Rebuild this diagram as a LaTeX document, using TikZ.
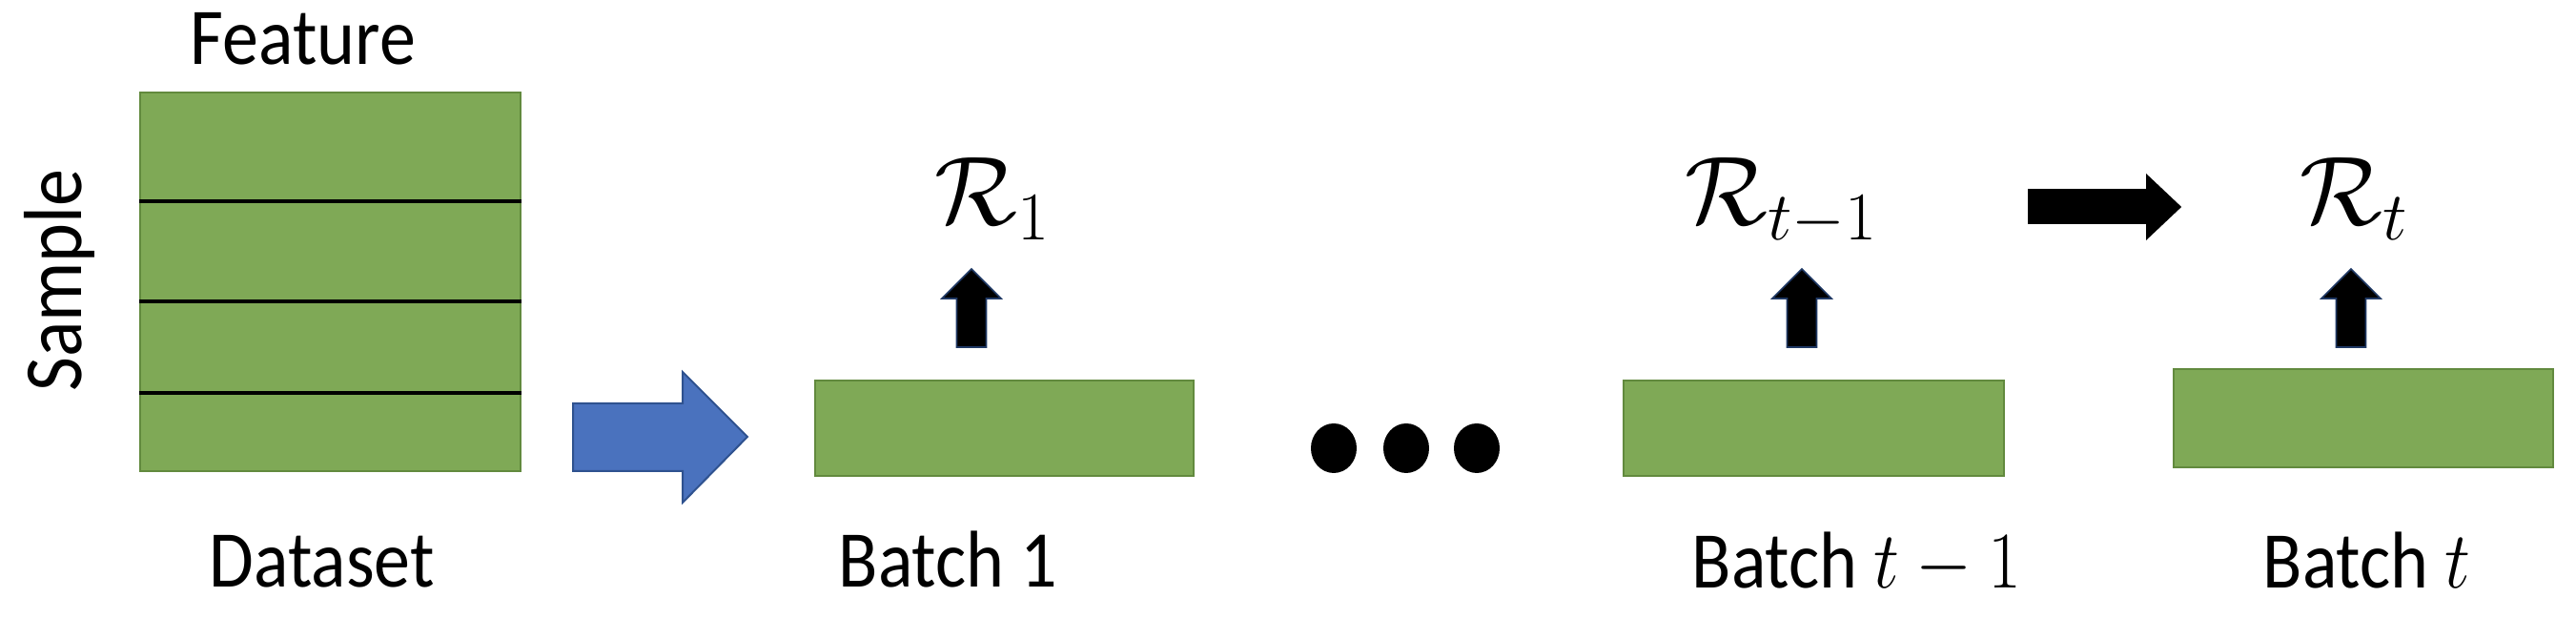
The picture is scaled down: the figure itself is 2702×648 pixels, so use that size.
\RequirePackage{fix-cm}
\documentclass[tikz,border=0pt]{standalone}
\usepackage{graphicx}
\usepackage{fontspec}
\setmainfont{Carlito}
\definecolor{gfill}{RGB}{127,169,86}
\definecolor{gdraw}{RGB}{98,138,62}
\definecolor{bfill}{RGB}{74,114,190}
\definecolor{bdraw}{RGB}{47,82,143}
\definecolor{adraw}{RGB}{31,56,100}
\newcommand{\tall}[1]{\scalebox{1}[1.11]{#1}}
\tikzset{
  databox/.style={draw=gdraw, fill=gfill, line width=0.7pt, inner sep=0pt},
  lbl/.style={inner sep=0pt, anchor=base west, font=\fontsize{19}{23}\selectfont},
  mlbl/.style={inner sep=0pt, anchor=base west, font=\fontsize{25.6}{30}\selectfont},
  uparrow/.style={fill=black, draw=adraw, line width=0.4pt, line join=miter},
}
\begin{document}
\begin{tikzpicture}[x=0.25pt,y=-0.25pt]
\useasboundingbox (0,0) rectangle (2702,648);
% dataset
\node[databox, minimum width=99.75pt, minimum height=99.25pt] (ds) at (346.5,295.5) {};
\foreach \yy in {211,316,412}
  \draw[line width=1pt] (ds.west |- 0,\yy) -- (ds.east |- 0,\yy);
\node[lbl] (feat) at (199,68) {\tall{Feature}};
\node[inner sep=0pt, anchor=base, rotate=90, font=\fontsize{19.5}{23}\selectfont] (samp) at (85,294) {\tall{Sample}};
\node[lbl] (dstxt) at (219,616) {\tall{Dataset}};
% blue arrow
\filldraw[fill=bfill, draw=bdraw, line width=0.5pt]
  (601,423) -- (716,423) -- (716,390) -- (784,458) -- (716,527) -- (716,494) -- (601,494) -- cycle;
% batches
\node[databox, minimum width=99.25pt, minimum height=25pt] (b1) at (1053.5,449) {};
\node[databox, minimum width=99.75pt, minimum height=25pt] (bt1) at (1902.5,449) {};
\node[databox, minimum width=99.5pt, minimum height=25.75pt] (bt) at (2479,438.5) {};
\node[lbl] (b1txt) at (879,616) {\tall{Batch 1}};
\node[lbl] (bt1txt) at (1774,617) {\tall{Batch $t-1$}};
\node[lbl] (bttxt) at (2373,617) {\tall{Batch $t$}};
% R labels
\node[mlbl] (r1) at (980,236) {$\mathcal{R}_1$};
\node[mlbl] (rt1) at (1767,236) {$\mathcal{R}_{t-1}$};
\node[mlbl] (rt) at (2412,236) {$\mathcal{R}_t$};
% up arrows
\foreach \cx in {1019,1890,2466}
  \filldraw[uparrow] (\cx-15.5,364) -- (\cx-15.5,313) -- (\cx-31,313) -- (\cx,282)
     -- (\cx+31,313) -- (\cx+15.5,313) -- (\cx+15.5,364) -- cycle;
% dots
\foreach \cx in {1399,1475,1549}
  \fill (\cx,470) ellipse [x radius=24, y radius=26];
% black arrow
\filldraw[fill=black, draw=black, line width=0.4pt]
  (2128,199) -- (2252,199) -- (2252,184) -- (2287,217) -- (2252,250) -- (2252,234) -- (2128,234) -- cycle;
\end{tikzpicture}
\end{document}
